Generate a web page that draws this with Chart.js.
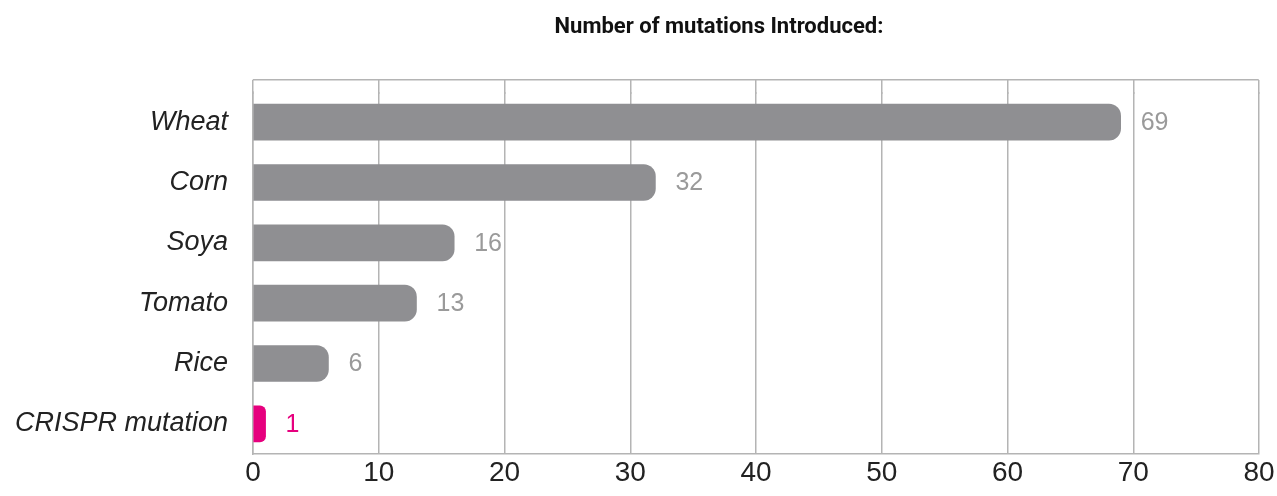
<!DOCTYPE html>
<html>
<head>
<meta charset="utf-8">
<script src="https://cdn.jsdelivr.net/npm/chart.js@4"></script>
<style>
  html, body { margin: 0; padding: 0; background: #fff; }
  .wrap { width: 1277px; height: 496px; position: relative; }
</style>
</head>
<body>
<div class="wrap"><canvas id="cnv"></canvas></div>
<script>
const categories = ['Wheat', 'Corn', 'Soya', 'Tomato', 'Rice', 'CRISPR mutation']
const mutations = [69, 32, 16, 13, 6, 1]
const xTicks = [0, 10, 20, 30, 40, 50, 60, 70, 80]

const GREY = '#8f8f92'
const PINK = '#e6007e'
const isHighlight = i => categories[i] === 'CRISPR mutation'

// same pixel snapping chart.js uses for grid lines
const snap = (px, w) => Math.round(px - w / 2) + w / 2

// title + top extension of the frame + value labels
const extras = {
  id: 'extras',
  beforeDatasetsDraw (chart) {
    const { ctx, chartArea, scales } = chart
    const ext = 12
    const lw = 1.5
    ctx.save()
    ctx.strokeStyle = '#b4b4b4'
    ctx.lineWidth = lw
    ctx.beginPath()
    scales.x.ticks.forEach(t => {
      const px = snap(scales.x.getPixelForValue(t.value), lw)
      ctx.moveTo(px, chartArea.top - ext)
      ctx.lineTo(px, chartArea.top + 2)
    })
    const top = snap(chartArea.top - ext, lw)
    ctx.moveTo(snap(chartArea.left, lw), top)
    ctx.lineTo(snap(chartArea.right, lw), top)
    ctx.stroke()
    ctx.restore()
  },
  afterDatasetsDraw (chart) {
    const { ctx } = chart
    const meta = chart.getDatasetMeta(0)
    ctx.save()
    ctx.font = '25px "Liberation Sans", Arial, sans-serif'
    ctx.textBaseline = 'middle'
    ctx.textAlign = 'left'
    meta.data.forEach((bar, i) => {
      ctx.fillStyle = isHighlight(i) ? PINK : '#9a9a9a'
      ctx.fillText(String(mutations[i]), bar.x + 20, bar.y + 1)
    })
    ctx.font = 'bold 22px Roboto, sans-serif'
    ctx.fillStyle = '#111'
    ctx.textAlign = 'center'
    ctx.fillText('Number of mutations Introduced:', 719, 27)
    ctx.restore()
  }
}

new Chart(document.getElementById('cnv'), {
  type: 'bar',
  data: {
    labels: categories,
    datasets: [{
      data: mutations,
      backgroundColor: ctx => isHighlight(ctx.dataIndex) ? PINK : GREY,
      borderRadius: { topLeft: 0, bottomLeft: 0, topRight: 12, bottomRight: 12 },
      borderSkipped: 'start',
      barThickness: 36
    }]
  },
  options: {
    indexAxis: 'y',
    responsive: true,
    maintainAspectRatio: false,
    animation: false,
    layout: { padding: { top: 92, right: 18, bottom: 0, left: 0 } },
    plugins: {
      legend: { display: false },
      title: { display: false },
      tooltip: { enabled: false }
    },
    scales: {
      x: {
        type: 'linear',
        min: 0,
        max: 80,
        afterBuildTicks: s => { s.ticks = xTicks.map(v => ({ value: v })) },
        afterFit: s => { s.height = 42 },
        grid: { color: '#b4b4b4', lineWidth: 1.5, drawTicks: false },
        border: { color: '#b4b4b4', width: 1.5 },
        ticks: {
          padding: 2,
          color: '#222',
          font: { family: '"Liberation Sans", Arial, sans-serif', size: 28 },
          maxRotation: 0
        }
      },
      y: {
        afterFit: s => { s.width = 253 },
        grid: { display: false, drawTicks: false },
        border: { color: '#b4b4b4', width: 1.5 },
        ticks: {
          padding: 25,
          color: '#222',
          font: { family: '"Liberation Sans", Arial, sans-serif', size: 27, style: 'italic' }
        }
      }
    }
  },
  plugins: [extras]
})
</script>
</body>
</html>
